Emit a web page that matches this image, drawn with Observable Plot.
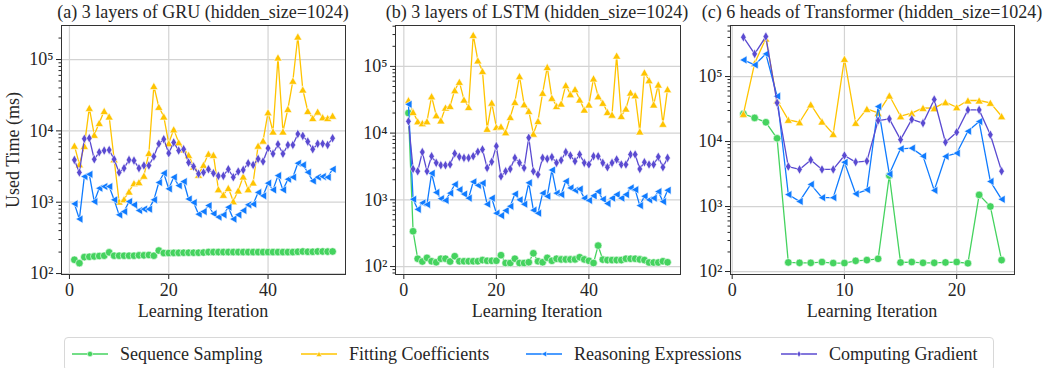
<!DOCTYPE html>
<html><head><meta charset="utf-8">
<script src="https://cdn.jsdelivr.net/npm/d3@7"></script>
<script src="https://cdn.jsdelivr.net/npm/@observablehq/plot@0.6"></script>
<style>
body{margin:0;background:#fff;}
#root{position:relative;width:1048px;height:368px;font-family:"Liberation Serif","DejaVu Serif",serif;color:#262626;overflow:hidden;background:#fff}
#root svg text{font-family:"Liberation Serif","DejaVu Serif",serif}
.panel{position:absolute;top:0}
.lbl{position:absolute;white-space:nowrap;transform:translate(-50%,-50%);line-height:1;font-size:18px;z-index:2}
.ylbl{position:absolute;white-space:nowrap;left:13px;top:150px;transform:translate(-50%,-50%) rotate(-90deg);line-height:1;font-size:18px}
#legend{position:absolute;left:64px;top:337px;width:930px;height:34px;border:1px solid #d8d8d8;border-radius:4px;box-sizing:border-box}
.item{position:absolute;top:0;height:32px;display:flex;align-items:center;font-size:18px;white-space:nowrap}
.item svg{margin-right:11px}
</style></head>
<body><div id="root"></div>
<script>
// ---------- data ----------
const seriesNames = ["Sequence Sampling", "Fitting Coefficients", "Reasoning Expressions", "Computing Gradient"];
const seriesColors = ["#45d35f", "#ffc400", "#0f7bff", "#5a4ad1"];
const panelTitles = ["(a) 3 layers of GRU (hidden_size=1024)", "(b) 3 layers of LSTM (hidden_size=1024)", "(c) 6 heads of Transformer (hidden_size=1024)"];
const xLabel = "Learning Iteration";
const yLabel = "Used Time (ms)";
const xTicksAB = [0, 20, 40];
const xTicksC = [0, 10, 20];
const yTicks = [100, 1000, 10000, 100000];

const gruSampling = [156,140,170,172,174,176,178,198,178,178,178,178,178,180,180,182,178,210,194,194,195,195,196,196,196,196,197,200,200,200,200,200,200,200,200,200,200,200,200,200,200,200,200,200,200,202,204,202,202,204,204,203,204];
const gruFitting = [6200,3400,6150,21000,8800,12900,19000,15900,4000,1020,1100,1410,1850,1910,2350,4900,42600,21700,15900,6700,10500,6900,5500,4600,3160,2420,3330,4770,4600,1520,1270,1580,1030,1460,2290,1520,1890,6200,7300,18200,9800,107000,9800,20300,50400,210000,38000,19000,15100,18600,15500,15100,16300];
const gruReasoning = [950,580,2290,2460,1020,1570,1660,1660,1080,665,740,1020,920,765,800,800,1080,1890,2550,1540,2240,1710,1950,1110,990,680,740,900,690,620,665,850,580,665,765,920,940,1370,1230,1850,1490,2360,1490,2100,2240,3520,3330,2630,1990,2240,2290,2240,2900];
const gruGradient = [3920,2610,7740,7900,4000,5020,5300,5400,4000,2610,3000,3920,3830,3000,3270,3270,4370,6600,7650,4870,6880,5300,5530,3600,3160,2500,2610,2900,2550,2340,2340,2900,2240,2690,2840,3520,3330,4050,3720,5720,4770,6500,4770,6350,6350,9050,8510,7070,5530,6600,6600,6350,7900];

const lstmSampling = [20000,338,131,119,135,120,116,131,131,119,143,120,120,120,120,120,125,122,122,122,148,113,113,131,113,113,116,158,120,116,135,122,131,128,128,128,128,138,128,122,113,206,127,125,125,125,125,131,131,131,128,125,115,115,115,120,116];
const lstmFitting = [31000,20700,15000,14100,15000,35600,18500,15500,24100,25500,44000,58600,31800,24600,296000,123000,85000,11600,28600,12300,12600,10300,17400,29300,71400,27000,21500,9800,15200,40100,97700,33700,25500,27700,52300,38300,45600,31800,22500,26800,66000,35600,28400,20700,18900,145000,18000,23300,40500,36900,10600,81000,62000,26800,53400,13800,45600];
const lstmReasoning = [27000,1020,720,900,850,2500,1290,1040,980,1260,1700,1420,1220,1060,1860,1650,1780,860,1060,630,580,690,800,1220,1000,860,1800,700,630,1260,1130,2800,1260,1200,1900,1510,1390,1450,1060,980,1150,1330,1020,880,1060,1200,1060,1200,1510,1420,820,1130,1000,1060,1330,940,1390];
const lstmGradient = [15000,2900,2680,5190,2680,4500,3580,3300,3300,3380,4950,4410,4250,4250,4500,5250,5690,3010,3710,6380,2250,2680,2900,4250,3580,3010,8530,2680,2390,4250,4110,4370,3580,3920,5190,4620,3790,4780,3580,3380,4500,4500,3580,3080,3580,4020,3380,3380,4780,4780,2900,3660,3380,3380,4410,3080,4250];

const tfSampling = [26600,23100,19800,11200,138,136,136,140,135,135,146,150,157,3000,138,140,136,136,138,140,134,1510,1000,150];
const tfFitting = [26600,160000,385000,42800,21600,19800,37200,20300,13100,187000,19400,31800,27600,51000,24500,27300,32900,32600,40300,33700,42800,42800,39400,24500];
const tfReasoning = [180000,151000,223000,49800,1530,1200,2190,1370,1370,4800,1570,1810,34500,3160,7730,7900,5960,1770,5900,6620,14400,20300,2430,1290];
const tfGradient = [403000,223000,412000,39400,4120,3720,5210,3720,3720,6100,4830,5000,21000,22300,10700,21900,19200,44300,9760,13900,30700,30700,12700,3500];

// ---------- markers ----------
function makeSymbols(s) {
  return [
    {draw(c){const r=3.8*s;c.moveTo(r,0);c.arc(0,0,r,0,2*Math.PI);c.closePath();}},
    {draw(c){c.moveTo(0,-3.7*s);c.lineTo(4.1*s,3.5*s);c.lineTo(-4.1*s,3.5*s);c.closePath();}},
    {draw(c){c.moveTo(-3.7*s,0);c.lineTo(3.5*s,-4.1*s);c.lineTo(3.5*s,4.1*s);c.closePath();}},
    {draw(c){c.moveTo(0,-4.8*s);c.lineTo(2.8*s,0);c.lineTo(0,4.8*s);c.lineTo(-2.8*s,0);c.closePath();}}
  ];
}
const symbols = makeSymbols(1);
const supers = {2:"²",3:"³",4:"⁴",5:"⁵",6:"⁶"};

const root = document.getElementById("root");
const labels = [];

function panel(cfg) {
  const [y0, y1] = cfg.yDomain;
  const minor = [];
  for (let k = 1; k <= 6; k++) for (let m = 2; m <= 9; m++) { const v = m * 10 ** k; if (v > y0 && v < y1) minor.push(v); }
  const marks = [
    Plot.gridX({ticks: cfg.xTicks, stroke: "#d3d3d3", strokeOpacity: 1, strokeWidth: 1.2}),
    Plot.gridY({ticks: yTicks, stroke: "#d3d3d3", strokeOpacity: 1, strokeWidth: 1.2}),
    Plot.axisX({ticks: cfg.xTicks, tickSize: 5, tickPadding: 4, label: null, tickFormat: d => String(d)}),
    Plot.axisY({ticks: yTicks, tickSize: 5, tickPadding: 3, label: null, tickFormat: d => "10" + supers[Math.round(Math.log10(d))]}),
    Plot.axisY({ticks: minor, tickSize: 2.5, label: null, tickFormat: () => ""}),
    Plot.frame({stroke: "#333", strokeWidth: 1})
  ];
  cfg.series.forEach((vals, si) => {
    const data = vals.map((v, i) => ({x: i + 1, y: v}));
    marks.push(Plot.line(data, {x: "x", y: "y", stroke: seriesColors[si], strokeWidth: 1.3}));
    marks.push(Plot.dot(data, {x: "x", y: "y", symbol: symbols[si], r: 4, fill: seriesColors[si], stroke: "white", strokeWidth: 0.6}));
  });
  const svg = Plot.plot({
    width: cfg.width, height: 330,
    marginLeft: cfg.mL, marginRight: cfg.mR, marginTop: 25, marginBottom: 56,
    x: {domain: cfg.xDomain},
    y: {type: "log", domain: cfg.yDomain},
    style: {fontFamily: '"Liberation Serif","DejaVu Serif",serif', fontSize: "18px", color: "#262626", background: "transparent", overflow: "visible"},
    marks
  });
  const wrap = document.createElement("div");
  wrap.className = "panel";
  wrap.style.left = cfg.left + "px";
  wrap.appendChild(svg);
  root.appendChild(wrap);
  labels.push([cfg.title, cfg.cx, 12], [xLabel, cfg.cx, 311]);
}

panel({left: 0, width: 350, mL: 61, mR: 5, xDomain: [-1.6, 55.6], xTicks: xTicksAB, yDomain: [97, 300000], series: [gruSampling, gruFitting, gruReasoning, gruGradient], title: panelTitles[0], cx: 203});
panel({left: 350, width: 335, mL: 45, mR: 5, xDomain: [-1.8, 59.8], xTicks: xTicksAB, yDomain: [76, 410000], series: [lstmSampling, lstmFitting, lstmReasoning, lstmGradient], title: panelTitles[1], cx: 537});
panel({left: 685, width: 335, mL: 45, mR: 6, xDomain: [-0.15, 25.15], xTicks: xTicksC, yDomain: [90, 610000], series: [tfSampling, tfFitting, tfReasoning, tfGradient], title: panelTitles[2], cx: 872});

labels.forEach(([text, x, y]) => {
  const d = document.createElement("div"); d.className = "lbl"; d.textContent = text;
  d.style.left = x + "px"; d.style.top = y + "px"; root.appendChild(d);
});

const yl = document.createElement("div"); yl.className = "ylbl"; yl.textContent = yLabel; root.appendChild(yl);

// legend
const legend = document.createElement("div"); legend.id = "legend"; root.appendChild(legend);
const legendLeft = [6, 235, 460, 715];
const smallSyms = makeSymbols(0.7);
seriesNames.forEach((name, i) => {
  const item = document.createElement("div"); item.className = "item"; item.style.left = legendLeft[i] + "px";
  const path = d3.path(); smallSyms[i].draw(path);
  item.innerHTML = `<svg width="38" height="14"><line x1="1" x2="37" y1="7" y2="7" stroke="${seriesColors[i]}" stroke-width="1.3"/><path transform="translate(19,7)" d="${path.toString()}" fill="${seriesColors[i]}" stroke="white" stroke-width="0.5"/></svg><span>${name}</span>`;
  legend.appendChild(item);
});
</script>
</body></html>
